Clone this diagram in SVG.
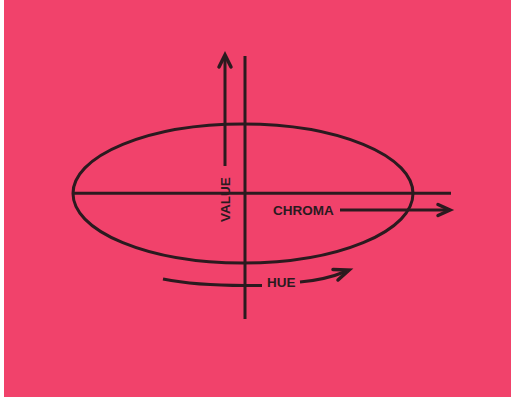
<svg xmlns="http://www.w3.org/2000/svg" width="511" height="399" viewBox="0 0 511 399">
<style>
.ln{fill:none;stroke:#2b1a1f;stroke-width:3;stroke-linecap:butt}
.hd{fill:none;stroke:#2b1a1f;stroke-width:3.5;stroke-linejoin:miter;stroke-linecap:round}
.lb{font-family:"Liberation Sans",Arial,sans-serif;font-weight:bold;font-size:13.5px;fill:#2b1a1f}
</style>
<rect x="0" y="0" width="511" height="399" fill="#ffffff"/>
<rect x="4" y="0" width="507" height="397" fill="#f1426b"/>
<g id="solid">
<ellipse class="ln" cx="243" cy="193.5" rx="170" ry="69.5"/>
<line class="ln" x1="245" y1="56" x2="245" y2="319"/>
<line class="ln" x1="73" y1="193.3" x2="451" y2="193.3"/>
</g>
<g id="value">
<line class="ln" x1="225" y1="166" x2="225" y2="58"/>
<polyline class="hd" points="219,67 225,55 231,67"/>
<text class="lb" transform="translate(229.5,222) rotate(-90)">VALUE</text>
</g>
<g id="chroma">
<text class="lb" x="273" y="214.5">CHROMA</text>
<line class="ln" x1="340" y1="210" x2="449" y2="210"/>
<polyline class="hd" points="438,204.5 450,210 438,215.5"/>
</g>
<g id="hue">
<path class="ln" d="M163,279 Q195,285.5 245,285.5 L262,285.5"/>
<text class="lb" x="267" y="287">HUE</text>
<path class="ln" d="M300,282 Q325,280 347,271"/>
<polyline class="hd" points="333,269.5 349,270 338,280"/>
</g>
</svg>
